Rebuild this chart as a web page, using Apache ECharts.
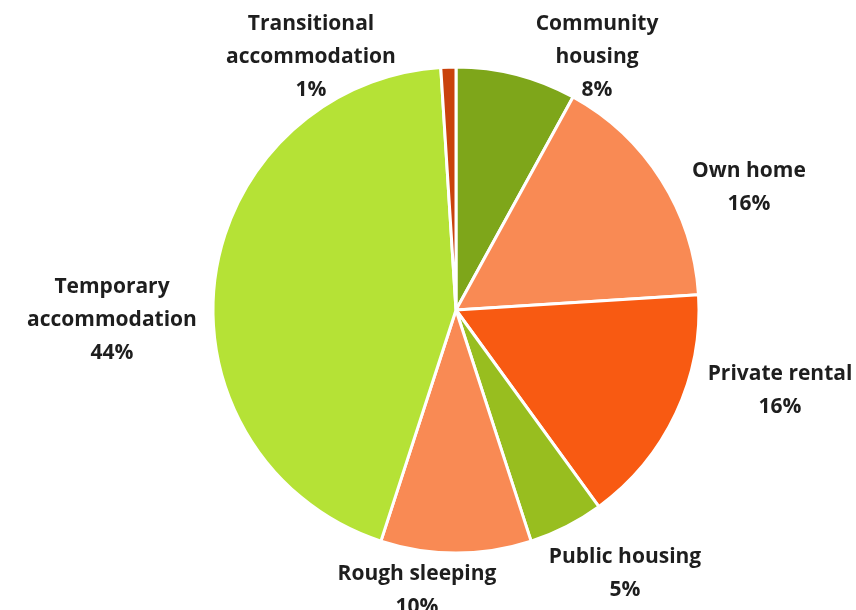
<!DOCTYPE html>
<html>
<head>
<meta charset="utf-8">
<script src="https://cdn.jsdelivr.net/npm/echarts@6/dist/echarts.min.js"></script>
<style>
  html, body { margin: 0; padding: 0; background: #ffffff; }
  #chart { width: 856px; height: 610px; }
</style>
</head>
<body>
<div id="chart"></div>
<script>
// Housing situation shares (percent), clockwise from 12 o'clock
const categories = [
  'Community\nhousing',
  'Own home',
  'Private rental',
  'Public housing',
  'Rough sleeping',
  'Temporary\naccommodation',
  'Transitional\naccommodation'
];
const shares = [8, 16, 16, 5, 10, 44, 1];

// Slice colours, same order as categories
const sliceColors = ['#7ea61a', '#f98a54', '#f85a12', '#98be1f', '#f98a54', '#b5e236', '#c9420c'];

// Where each label block is centred on the canvas
const labelAnchors = [
  [597, 57], [749, 188], [780, 391], [625, 574], [417, 591], [112, 320], [311, 57]
];

const chart = echarts.init(document.getElementById('chart'), null, { renderer: 'canvas' });

chart.setOption({
  backgroundColor: '#ffffff',
  animation: false,
  series: [{
    type: 'pie',
    center: [456, 310],
    radius: 243,
    startAngle: 90,
    clockwise: true,
    avoidLabelOverlap: false,
    itemStyle: { borderColor: '#ffffff', borderWidth: 3 },
    label: {
      show: true,
      position: 'outside',
      formatter: '{b}\n{d}%',
      fontFamily: 'Open Sans',
      fontWeight: 'bold',
      fontSize: 21,
      lineHeight: 33,
      color: '#1e1e1e'
    },
    labelLine: { show: false },
    labelLayout: function (params) {
      const p = labelAnchors[params.dataIndex];
      return { x: p[0], y: p[1], align: 'center', verticalAlign: 'middle' };
    },
    emphasis: { disabled: true },
    data: categories.map((name, i) => ({
      name: name,
      value: shares[i],
      itemStyle: { color: sliceColors[i] }
    }))
  }]
});
</script>
</body>
</html>
